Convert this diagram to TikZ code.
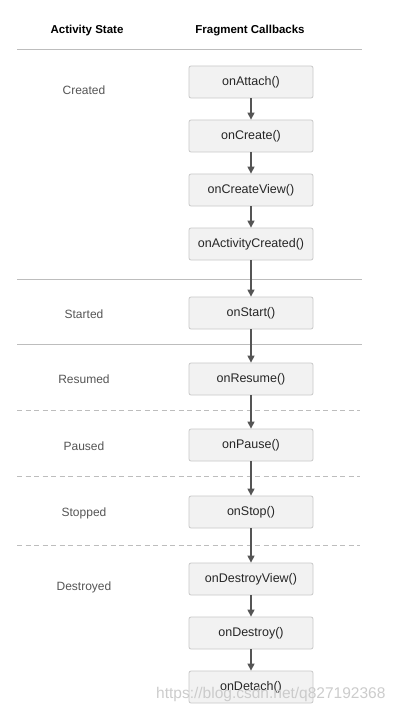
\documentclass[tikz,border=0pt]{standalone}
\usepackage{fontspec}
\setmainfont{Liberation Sans}
\usetikzlibrary{arrows.meta}
\definecolor{boxfill}{HTML}{F2F2F2}
\definecolor{boxline}{HTML}{C9C9C9}
\definecolor{sepline}{HTML}{BDBDBD}
\definecolor{arrowc}{HTML}{555555}
\definecolor{labelc}{HTML}{555555}
\begin{document}
\begin{tikzpicture}[x=1pt,y=-1pt,
  cb/.style={draw=boxline, fill=boxfill, rounded corners=2pt, line width=0.8pt,
    minimum width=124pt, minimum height=32pt, inner sep=0pt,
    font=\fontsize{12.5}{14}\selectfont, text=black!85},
  statelabel/.style={font=\fontsize{12}{14}\selectfont, text=labelc},
  header/.style={font=\bfseries\fontsize{11.5}{14}\selectfont, text=black},
  solidsep/.style={draw=sepline, line width=1pt},
  dashsep/.style={draw=sepline, line width=0.9pt, dash pattern=on 5pt off 3.5pt},
  flow/.style={draw=arrowc, line width=1.2pt, -{Triangle[length=7pt,width=7pt]}}]
\useasboundingbox (0,0) rectangle (400,714);
\fill[white] (0,0) rectangle (400,714);

% headers
\node[header] (h1) at (87,31) {Activity State};
\node[header] (h2) at (250,31) {Fragment Callbacks};

% separators
\draw[solidsep] (17,50) -- (362,50);
\draw[solidsep] (17,279) -- (362,279);
\draw[solidsep] (17,344) -- (362,344);
\draw[dashsep] (17,410) -- (360,410);
\draw[dashsep] (17,476) -- (360,476);
\draw[dashsep] (17,545) -- (360,545);

% state labels
\node[statelabel] (sCreated) at (84,90) {Created};
\node[statelabel] (sStarted) at (84,314) {Started};
\node[statelabel] (sResumed) at (84,379) {Resumed};
\node[statelabel] (sPaused) at (84,446) {Paused};
\node[statelabel] (sStopped) at (84,513) {Stopped};
\node[statelabel] (sDestroyed) at (84,587) {Destroyed};

% callbacks
\node[cb] (attach) at (251,82) {onAttach()};
\node[cb] (create) at (251,136) {onCreate()};
\node[cb] (cview) at (251,190) {onCreateView()};
\node[cb] (actc) at (251,244) {onActivityCreated()};
\node[cb] (start) at (251,313) {onStart()};
\node[cb] (resume) at (251,379) {onResume()};
\node[cb] (pause) at (251,445) {onPause()};
\node[cb] (stop) at (251,512) {onStop()};
\node[cb] (dview) at (251,579) {onDestroyView()};
\node[cb] (destroy) at (251,633) {onDestroy()};
\node[cb] (detach) at (251,687) {onDetach()};

% arrows
\draw[flow] (attach) -- (create);
\draw[flow] (create) -- (cview);
\draw[flow] (cview) -- (actc);
\draw[flow] (actc) -- (start);
\draw[flow] (start) -- (resume);
\draw[flow] (resume) -- (pause);
\draw[flow] (pause) -- (stop);
\draw[flow] (stop) -- (dview);
\draw[flow] (dview) -- (destroy);
\draw[flow] (destroy) -- (detach);

% watermark
\node[font=\fontsize{15.5}{17}\selectfont, text=black!22, opacity=0.9, anchor=west, inner sep=0pt] (wm) at (156,694) {https://blog.csdn.net/q827192368};
\end{tikzpicture}
\end{document}
